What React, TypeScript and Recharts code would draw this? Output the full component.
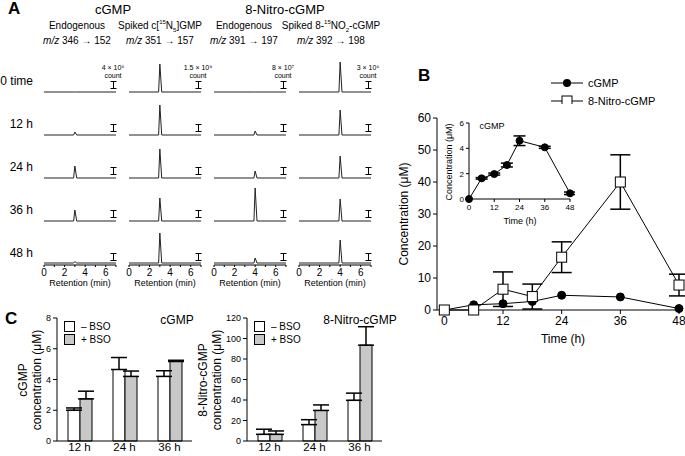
import React from 'react';
import { LineChart, Line, XAxis, YAxis, BarChart, Bar, ErrorBar } from 'recharts';

const FONT = '"Liberation Sans", Arial, Helvetica, sans-serif';

// ---- Panel A: chromatogram peak heights (trace units) for each sampling time
const timeLabels = ['0 time', '12 h', '24 h', '36 h', '48 h'];
const cgmpEndoPeaks = [0, 3, 12, 11, 1.5];
const cgmpSpikedPeaks = [28, 30, 29, 23, 30];
const nitroEndoPeaks = [0, 4, 7, 33, 5];
const nitroSpikedPeaks = [30, 25, 22, 22, 23];
const cgmpRetention = 3.0;
const nitroRetention = 4.0;
const retentionTicks = [0, 1, 2, 3, 4, 5, 6, 7];
const scaleLabels = ['4 × 10⁶', '1.5 × 10⁹', '8 × 10⁷', '3 × 10⁶'];

// ---- Panel B: time course
const hours = [0, 6, 12, 18, 24, 36, 48];
const cgmpConc = [0, 1.63, 1.97, 2.68, 4.6, 4.08, 0.45];
const cgmpErr = [0, 0.06, 0.08, 0.15, 0.38, 0.08, 0.1];
const nitroConc = [0, 0, 6.5, 4.2, 16.5, 40, 7.8];
const nitroErr = [0, 0, 5.4, 3.9, 4.8, 8.5, 3.4];

// ---- Panel C: BSO treatment
const bsoCategories = ['12 h', '24 h', '36 h'];
const cgmpMinusBso = [2.0, 4.65, 4.2];
const cgmpMinusBsoErr = [0.15, 0.78, 0.37];
const cgmpPlusBso = [2.74, 4.2, 5.17];
const cgmpPlusBsoErr = [0.5, 0.35, 0.08];
const nitroMinusBso = [6.5, 16, 39.7];
const nitroMinusBsoErr = [5, 4.8, 7];
const nitroPlusBso = [6.5, 29.8, 93.5];
const nitroPlusBsoErr = [3.3, 5.4, 18];

const colLeft = [44, 129, 214, 299];
const colCenter = [77, 160, 244, 331];
const baselines = [92, 135, 178, 221, 264];

const tracePoints = (rt: number, h: number) => [
  { t: 0, v: 0 },
  { t: rt - 0.12, v: 0 },
  { t: rt, v: h },
  { t: rt + 0.18, v: 0 },
  { t: 7, v: 0 },
];

const Txt = ({ x, y, size = 11, anchor = 'middle', bold = false, children }: any) => {
  const tx = anchor === 'middle' ? '-50%' : anchor === 'end' ? '-100%' : '0';
  return (
    <div
      style={{
        position: 'absolute', left: x, top: y, transform: `translate(${tx}, -50%)`,
        fontSize: size, fontWeight: bold ? 700 : 400, lineHeight: 1, whiteSpace: 'nowrap',
      }}
    >
      {children}
    </div>
  );
};

const VTxt = ({ x, y, size = 12, children }: any) => (
  <div
    style={{
      position: 'absolute', left: x, top: y, transform: 'translate(-50%, -50%) rotate(-90deg)',
      fontSize: size, lineHeight: 1.15, whiteSpace: 'nowrap', textAlign: 'center',
    }}
  >
    {children}
  </div>
);

const ScaleBar = ({ x, y }: { x: number; y: number }) => (
  <svg width={7} height={8} style={{ position: 'absolute', left: x - 3, top: y }}>
    <line x1={0.5} y1={0.5} x2={6.5} y2={0.5} stroke="#000" />
    <line x1={3.5} y1={0.5} x2={3.5} y2={7.5} stroke="#000" />
    <line x1={0.5} y1={7.5} x2={6.5} y2={7.5} stroke="#000" />
  </svg>
);

const circleDot = (r: number) => (p: any) => (
  <circle key={`c-${p.index}`} cx={p.cx} cy={p.cy} r={r} fill="#000" stroke="#000" />
);
const squareDot = (p: any) => (
  <rect key={`s-${p.index}`} x={p.cx - 5} y={p.cy - 5} width={10} height={10} fill="#fff" stroke="#000" />
);

const columns = [
  { peaks: cgmpEndoPeaks, rt: cgmpRetention },
  { peaks: cgmpSpikedPeaks, rt: cgmpRetention },
  { peaks: nitroEndoPeaks, rt: nitroRetention },
  { peaks: nitroSpikedPeaks, rt: nitroRetention },
];

const TraceCell = ({ col, row }: { col: number; row: number }) => {
  const { peaks, rt } = columns[col];
  const last = row === 4;
  const data = tracePoints(rt, peaks[row]);
  const top = last ? 229 : baselines[row] - 35;
  return (
    <div style={{ position: 'absolute', left: colLeft[col] - 5, top }}>
      <LineChart width={82} height={last ? 50 : 36} data={data} margin={{ top: 0, right: 5, left: 5, bottom: 0 }}>
        <XAxis
          type="number" dataKey="t" domain={[0, 7]} ticks={retentionTicks} hide={!last}
          height={14} tickSize={2} interval={0} stroke="#000"
          tick={{ fontSize: 10, fill: '#000' }}
          tickFormatter={(v: number) => (v % 2 === 0 ? String(v) : '')}
        />
        <YAxis hide domain={last ? [-2, 34] : [-1, 35]} />
        <Line dataKey="v" type="linear" stroke="#222" strokeWidth={1} dot={false} isAnimationActive={false} />
      </LineChart>
    </div>
  );
};

const bData = hours.map((t, i) => ({
  t, cgmp: cgmpConc[i], cgmpErr: cgmpErr[i], nitro: nitroConc[i], nitroErr: nitroErr[i],
}));

const cgmpBars = bsoCategories.map((c, i) => ({
  c, minus: cgmpMinusBso[i], minusErr: [0, cgmpMinusBsoErr[i]], plus: cgmpPlusBso[i], plusErr: [0, cgmpPlusBsoErr[i]],
}));
const nitroBars = bsoCategories.map((c, i) => ({
  c, minus: nitroMinusBso[i], minusErr: [0, nitroMinusBsoErr[i]], plus: nitroPlusBso[i], plusErr: [0, nitroPlusBsoErr[i]],
}));

const BsoChart = ({ data, domain, ticks }: any) => (
  <BarChart width={200} height={156} data={data} margin={{ top: 18, right: 8, left: 0, bottom: 0 }} barCategoryGap="22%" barGap={0}>
    <XAxis dataKey="c" tickLine={false} tickSize={0} tickMargin={2} height={15} stroke="#000" tick={{ fontSize: 11.5, fill: '#000' }} />
    <YAxis domain={domain} ticks={ticks} width={57} tickSize={4} stroke="#000" tick={{ fontSize: 9, fill: '#000' }} />
    <Bar dataKey="minus" fill="#fff" stroke="#000" barSize={12} isAnimationActive={false}>
      <ErrorBar dataKey="minusErr" width={8} stroke="#000" direction="y" />
    </Bar>
    <Bar dataKey="plus" fill="#c8c8c8" stroke="#000" barSize={12} isAnimationActive={false}>
      <ErrorBar dataKey="plusErr" width={8} stroke="#000" direction="y" />
    </Bar>
  </BarChart>
);

const BsoLegend = ({ x, y }: { x: number; y: number }) => (
  <>
    {[{ fill: '#fff', label: '– BSO' }, { fill: '#c8c8c8', label: '+ BSO' }].map((e, i) => (
      <div key={e.label} style={{ position: 'absolute', left: x, top: y + i * 13, display: 'flex', alignItems: 'center', fontSize: 10, lineHeight: 1 }}>
        <div style={{ width: 9, height: 9, border: '1px solid #000', background: e.fill, marginRight: 6 }} />
        {e.label}
      </div>
    ))}
  </>
);

export default function App() {
  return (
    <div style={{ position: 'absolute', left: 0, top: 0, width: 685, height: 456, background: '#fff', fontFamily: FONT, color: '#000', overflow: 'hidden' }}>
      {/* Panel A */}
      <Txt x={8} y={8} size={17} bold anchor="start">A</Txt>
      <Txt x={113} y={9} size={13}>cGMP</Txt>
      <Txt x={285} y={9} size={13}>8-Nitro-cGMP</Txt>
      <Txt x={colCenter[0]} y={26} size={10}>Endogenous</Txt>
      <Txt x={colCenter[1]} y={26} size={10}>Spiked c[<sup style={{ fontSize: 6 }}>15</sup>N<sub style={{ fontSize: 6 }}>5</sub>]GMP</Txt>
      <Txt x={colCenter[2]} y={26} size={10}>Endogenous</Txt>
      <Txt x={colCenter[3]} y={26} size={10}>Spiked 8-<sup style={{ fontSize: 6 }}>15</sup>NO<sub style={{ fontSize: 6 }}>2</sub>-cGMP</Txt>
      <Txt x={colCenter[0]} y={41} size={10}><i>m/z</i> 346 → 152</Txt>
      <Txt x={colCenter[1]} y={41} size={10}><i>m/z</i> 351 → 157</Txt>
      <Txt x={colCenter[2]} y={41} size={10}><i>m/z</i> 391 → 197</Txt>
      <Txt x={colCenter[3]} y={41} size={10}><i>m/z</i> 392 → 198</Txt>

      {timeLabels.map((t, r) => (
        <Txt key={t} x={33} y={baselines[r] - 11} size={12} anchor="end">{t}</Txt>
      ))}
      {timeLabels.map((t, r) =>
        columns.map((_, c) => <TraceCell key={`${r}-${c}`} col={c} row={r} />)
      )}
      {timeLabels.map((t, r) =>
        colLeft.map((x, c) => <ScaleBar key={`sb-${r}-${c}`} x={x + 69} y={baselines[r] - 11} />)
      )}
      {scaleLabels.map((s, c) => (
        <React.Fragment key={s}>
          <Txt x={colLeft[c] + 69} y={baselines[0] - 25} size={7}>{s}</Txt>
          <Txt x={colLeft[c] + 69} y={baselines[0] - 17} size={7}>count</Txt>
        </React.Fragment>
      ))}
      {colLeft.map((x) => (
        <Txt key={`ret-${x}`} x={x + 36} y={283} size={9}>Retention (min)</Txt>
      ))}

      {/* Panel B */}
      <Txt x={418} y={75} size={17} bold anchor="start">B</Txt>
      <svg width={34} height={30} style={{ position: 'absolute', left: 551, top: 74 }}>
        <line x1={0} y1={9} x2={32} y2={9} stroke="#000" />
        <circle cx={16} cy={9} r={4} fill="#000" />
        <line x1={0} y1={27} x2={32} y2={27} stroke="#000" />
        <rect x={11} y={22} width={10} height={10} fill="#fff" stroke="#000" />
      </svg>
      <Txt x={588} y={83} size={11} anchor="start">cGMP</Txt>
      <Txt x={588} y={101} size={11} anchor="start">8-Nitro-cGMP</Txt>

      <div style={{ position: 'absolute', left: 390, top: 70 }}>
        <LineChart width={295} height={290} data={bData} margin={{ top: 48, right: 6, left: 0, bottom: 20 }}>
          <XAxis type="number" dataKey="t" domain={[-1.5, 48]} ticks={[0, 12, 24, 36, 48]}
            tickSize={4} height={30} stroke="#000" tick={{ fontSize: 12, fill: '#000' }} />
          <YAxis type="number" domain={[0, 60]} ticks={[0, 10, 20, 30, 40, 50, 60]}
            width={47} tickSize={4} stroke="#000" tick={{ fontSize: 12, fill: '#000' }} />
          <Line dataKey="cgmp" type="linear" stroke="#000" strokeWidth={1} dot={circleDot(4)} isAnimationActive={false} />
          <Line dataKey="nitro" type="linear" stroke="#000" strokeWidth={1} dot={squareDot} isAnimationActive={false}>
            <ErrorBar dataKey="nitroErr" width={10} stroke="#000" direction="y" />
          </Line>
        </LineChart>
      </div>
      <VTxt x={405} y={214} size={12}>Concentration (μM)</VTxt>
      <Txt x={563} y={339} size={12}>Time (h)</Txt>

      {/* inset */}
      <div style={{ position: 'absolute', left: 440, top: 115 }}>
        <LineChart width={135} height={115} data={bData} margin={{ top: 8, right: 5, left: 0, bottom: 15 }}>
          <XAxis type="number" dataKey="t" domain={[0, 48]} ticks={[0, 12, 24, 36, 48]}
            tickSize={3} height={16} stroke="#000" tick={{ fontSize: 8, fill: '#000' }} />
          <YAxis type="number" domain={[0, 6]} ticks={[0, 2, 4, 6]}
            width={29} tickSize={3} stroke="#000" tick={{ fontSize: 8, fill: '#000' }} />
          <Line dataKey="cgmp" type="linear" stroke="#000" strokeWidth={1} dot={circleDot(3.5)} isAnimationActive={false}>
            <ErrorBar dataKey="cgmpErr" width={6} stroke="#000" direction="y" />
          </Line>
        </LineChart>
      </div>
      <VTxt x={449} y={162} size={9}>Concentration (μM)</VTxt>
      <Txt x={520} y={221} size={9}>Time (h)</Txt>
      <Txt x={492} y={126} size={9}>cGMP</Txt>

      {/* Panel C */}
      <Txt x={5} y={318} size={17} bold anchor="start">C</Txt>
      <div style={{ position: 'absolute', left: 0, top: 300 }}>
        <BsoChart data={cgmpBars} domain={[0, 8]} ticks={[0, 2, 4, 6, 8]} />
      </div>
      <div style={{ position: 'absolute', left: 190, top: 300 }}>
        <BsoChart data={nitroBars} domain={[0, 120]} ticks={[0, 20, 40, 60, 80, 100, 120]} />
      </div>
      <Txt x={177} y={320} size={12}>cGMP</Txt>
      <Txt x={360} y={320} size={12}>8-Nitro-cGMP</Txt>
      <BsoLegend x={64} y={321} />
      <BsoLegend x={254} y={321} />
      <VTxt x={31} y={380} size={12}>cGMP<br />concentration (μM)</VTxt>
      <VTxt x={211} y={380} size={12}>8-Nitro-cGMP<br />concentration (μM)</VTxt>
    </div>
  );
}
